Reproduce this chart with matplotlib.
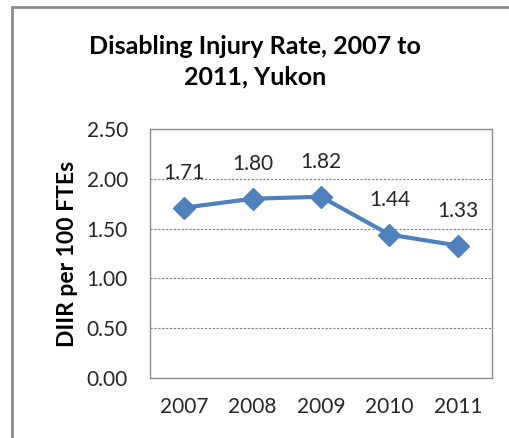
import matplotlib.pyplot as plt
from matplotlib.patches import Rectangle

# chart data
years = ['2007', '2008', '2009', '2010', '2011']
diir = [1.71, 1.80, 1.82, 1.44, 1.33]
y_ticks = [0.0, 0.5, 1.0, 1.5, 2.0, 2.5]

W, H = 510, 438
fig = plt.figure(figsize=(W / 100, H / 100), dpi=100)
plt.rcParams['font.family'] = ['Lato', 'DejaVu Sans']

# outer chart border (runs off the right and bottom edge)
fig.patches.append(Rectangle((12 / W, -0.05), 1.2, (H - 7) / H + 0.05,
                             transform=fig.transFigure, fill=False,
                             edgecolor='#8c8c8c', linewidth=2))

ax = fig.add_axes([150 / W, (H - 378) / H, (492 - 150) / W, (378 - 129) / H])
x = list(range(len(years)))
ax.plot(x, diir, color='#4F81BD', linewidth=3, marker='D', markersize=11, zorder=3)

for xi, v in zip(x, diir):
    ax.annotate(f'{v:.2f}', (xi, v), xytext=(0, 25), textcoords='offset points',
                ha='center', va='center', fontsize=15, color='#262626')

ax.set_xlim(-0.5, len(years) - 0.5)
ax.set_ylim(0, 2.5)
ax.set_xticks(x)
ax.set_xticklabels(years)
ax.set_yticks(y_ticks)
ax.set_yticklabels([f'{t:.2f}' for t in y_ticks])
ax.tick_params(length=0, labelsize=15, labelcolor='#262626')
ax.tick_params(axis='x', pad=14)
ax.tick_params(axis='y', pad=16)
ax.yaxis.grid(True, linestyle=(0, (2, 1.5)), color='#7f7f7f', linewidth=0.8)
ax.set_axisbelow(True)
for s in ax.spines.values():
    s.set_color('#8c8c8c')
    s.set_linewidth(1)

ax.set_ylabel('DIIR per 100 FTEs', fontsize=16.5, fontweight='bold', labelpad=6)
fig.text(0.5, 1 - 46 / H, 'Disabling Injury Rate, 2007 to', ha='center', va='center',
         fontsize=18, fontweight='bold')
fig.text(0.5, 1 - 77 / H, '2011, Yukon', ha='center', va='center',
         fontsize=18, fontweight='bold')

fig.savefig('out.png', dpi=100)
